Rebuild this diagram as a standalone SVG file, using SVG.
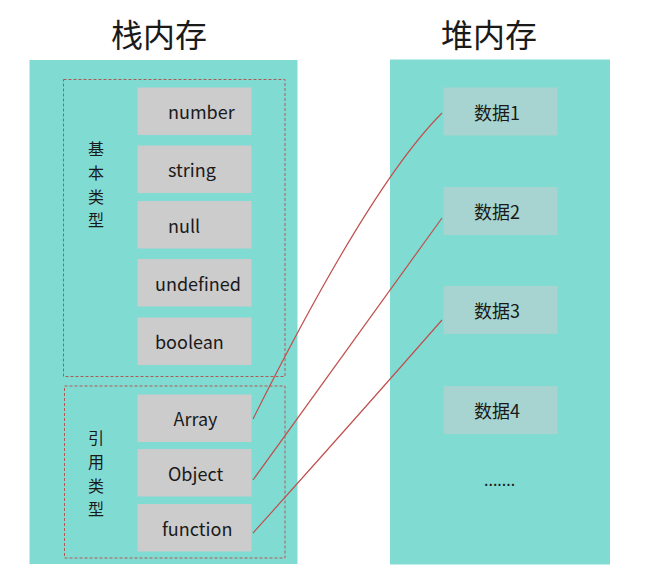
<svg xmlns="http://www.w3.org/2000/svg" width="650" height="575" viewBox="0 0 650 575">
<style>
text{font-family:"Noto Sans CJK SC","Noto Sans",sans-serif;fill:#1a1a1a}
.title{font-size:32px}
.lbl{font-size:18px}
.vl{font-size:16px;text-anchor:middle}
.panel{fill:#80dbd3}
.box{fill:#cccccc}
.hbox{fill:#a7d4d0}
.grp{fill:none;stroke:#b05a56;stroke-width:1;stroke-dasharray:3 2}
.conn{fill:none;stroke:#c0504d;stroke-width:1.2}
</style>
<rect width="650" height="575" fill="#ffffff"/>
<g id="stack">
<text class="title" x="111" y="47">栈内存</text>
<rect class="panel" x="29.5" y="60" width="268" height="504"/>
</g>
<g id="heap">
<text class="title" x="441" y="47">堆内存</text>
<rect class="panel" x="390" y="59.5" width="220" height="505"/>
</g>
<g id="primitive-group">
<rect class="grp" x="63.5" y="79.5" width="221.5" height="297"/>
<text class="vl" x="96" y="155">基</text>
<text class="vl" x="96" y="179">本</text>
<text class="vl" x="96" y="202.5">类</text>
<text class="vl" x="96" y="226">型</text>
</g>
<g id="reference-group">
<rect class="grp" x="64.5" y="386" width="220.5" height="172"/>
<text class="vl" x="96" y="444">引</text>
<text class="vl" x="96" y="468">用</text>
<text class="vl" x="96" y="491.5">类</text>
<text class="vl" x="96" y="515">型</text>
</g>
<g id="number"><rect class="box" x="137.5" y="87.5" width="114" height="47.5"/><text class="lbl" x="168" y="119">number</text></g>
<g id="string"><rect class="box" x="137.5" y="145.5" width="114" height="47.5"/><text class="lbl" x="168" y="177">string</text></g>
<g id="null"><rect class="box" x="137.5" y="201" width="114" height="47.5"/><text class="lbl" x="168" y="232.5">null</text></g>
<g id="undefined"><rect class="box" x="137.5" y="259" width="114" height="47.5"/><text class="lbl" x="155" y="290.5">undefined</text></g>
<g id="boolean"><rect class="box" x="137.5" y="317.5" width="114" height="47.5"/><text class="lbl" x="155" y="349">boolean</text></g>
<g id="array"><rect class="box" x="137.5" y="394.5" width="114" height="47.5"/><text class="lbl" x="173.5" y="426">Array</text></g>
<g id="object"><rect class="box" x="137.5" y="449" width="114" height="47.5"/><text class="lbl" x="168" y="480.5">Object</text></g>
<g id="function"><rect class="box" x="137.5" y="504" width="114" height="47.5"/><text class="lbl" x="162" y="535.5">function</text></g>
<g id="data1"><rect class="hbox" x="443.5" y="87.5" width="114" height="48"/><text class="lbl" x="474" y="119.5">数据1</text></g>
<g id="data2"><rect class="hbox" x="443.5" y="187" width="114" height="48"/><text class="lbl" x="474" y="219">数据2</text></g>
<g id="data3"><rect class="hbox" x="443.5" y="286" width="114" height="48"/><text class="lbl" x="474" y="318">数据3</text></g>
<g id="data4"><rect class="hbox" x="443.5" y="386" width="114" height="48"/><text class="lbl" x="474" y="418">数据4</text></g>
<g id="more"><text class="lbl" x="484" y="486" style="font-size:16px">.......</text></g>
<g id="connectors">
<path class="conn" d="M253,419 Q370,185 442,113"/>
<path class="conn" d="M253,480 Q350,346 442,218"/>
<path class="conn" d="M253,533 Q350,425 442,320"/>
</g>
</svg>
